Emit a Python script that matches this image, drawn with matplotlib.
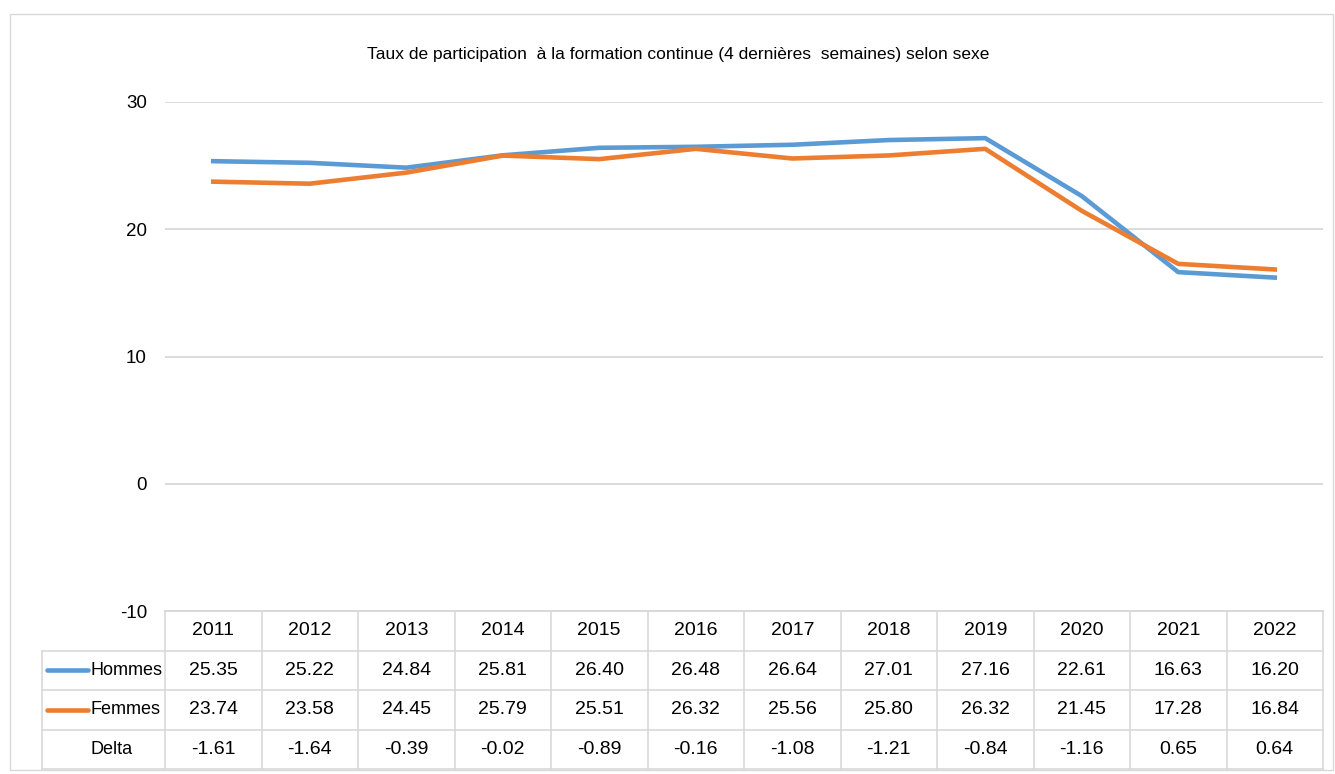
import matplotlib
matplotlib.use("Agg")
import matplotlib.pyplot as plt
from matplotlib.patches import Rectangle

plt.rcParams['font.family'] = ['Liberation Sans', 'DejaVu Sans']

years = ["2011", "2012", "2013", "2014", "2015", "2016", "2017", "2018", "2019", "2020", "2021", "2022"]
hommes = [25.35, 25.22, 24.84, 25.81, 26.40, 26.48, 26.64, 27.01, 27.16, 22.61, 16.63, 16.20]
femmes = [23.74, 23.58, 24.45, 25.79, 25.51, 26.32, 25.56, 25.80, 26.32, 21.45, 17.28, 16.84]
delta = [-1.61, -1.64, -0.39, -0.02, -0.89, -0.16, -1.08, -1.21, -0.84, -1.16, 0.65, 0.64]
title = "Taux de participation  à la formation continue (4 dernières  semaines) selon sexe"

BLUE = "#5B9BD5"
ORANGE = "#ED7D31"
GRID = "#d9d9d9"

W, H = 1335, 774
fig = plt.figure(figsize=(W / 100, H / 100), dpi=100)

# outer chart border
fig.patches.append(Rectangle((10 / W, 1 - 770 / H), (1333 - 10) / W, (770 - 14) / H,
                             transform=fig.transFigure, fill=False, edgecolor=GRID, lw=1))

fig.text(678 / W, 1 - 55 / H, title, ha="center", va="center", fontsize=12.5)

# main plot
L, R, T, B = 165, 1323, 102, 611
ax = fig.add_axes([L / W, 1 - B / H, (R - L) / W, (B - T) / H])
x = list(range(len(years)))
ax.plot(x, hommes, color=BLUE, lw=3.3, solid_joinstyle="round", zorder=3)
ax.plot(x, femmes, color=ORANGE, lw=3.3, solid_joinstyle="round", zorder=3)
ax.set_xlim(-0.5, len(years) - 0.5)
ax.set_ylim(-10, 30)
ax.set_yticks([-10, 0, 10, 20, 30])
ax.set_yticklabels(["-10", "0", "10", "20", "30"], fontsize=13.5)
ax.tick_params(axis="y", length=0, pad=13)
ax.set_xticks([])
ax.grid(axis="y", color=GRID, lw=1.3)
for s in ["top", "right", "left"]:
    ax.spines[s].set_visible(False)
ax.spines["bottom"].set_color(GRID)
ax.spines["bottom"].set_linewidth(1.3)

# data table
TL, TB = 42, 769
tax = fig.add_axes([TL / W, 1 - TB / H, (R - TL) / W, (TB - B) / H])
colw = (R - L) / len(years)
x0 = -0.5 - (L - TL) / colw
tax.set_xlim(x0, len(years) - 0.5)
tax.set_ylim(4, 0)
tax.axis("off")

lk = dict(color=GRID, lw=1.2, clip_on=False)
tax.plot([-0.5, len(years) - 0.5], [0, 0], **lk)
for r in [1, 2, 3, 4]:
    tax.plot([x0, len(years) - 0.5], [r, r], **lk)
for c in range(len(years) + 1):
    tax.plot([c - 0.5, c - 0.5], [0, 4], **lk)
tax.plot([x0, x0], [1, 4], **lk)

fs = 14
for i, yr in enumerate(years):
    tax.text(i, 0.5, yr, ha="center", va="center", fontsize=fs)
    tax.text(i, 1.5, f"{hommes[i]:.2f}", ha="center", va="center", fontsize=fs)
    tax.text(i, 2.5, f"{femmes[i]:.2f}", ha="center", va="center", fontsize=fs)
    tax.text(i, 3.5, f"{delta[i]:.2f}", ha="center", va="center", fontsize=fs)

kx0 = x0 + 5 / colw
kx1 = x0 + 46 / colw
tx = x0 + 49 / colw
tax.plot([kx0, kx1], [1.5, 1.5], color=BLUE, lw=3.3, solid_capstyle="round")
tax.plot([kx0, kx1], [2.5, 2.5], color=ORANGE, lw=3.3, solid_capstyle="round")
lfs = 13
tax.text(tx, 1.5, "Hommes", ha="left", va="center", fontsize=lfs)
tax.text(tx, 2.5, "Femmes", ha="left", va="center", fontsize=lfs)
tax.text(tx, 3.5, "Delta", ha="left", va="center", fontsize=lfs)

fig.savefig("out.png", dpi=100)
